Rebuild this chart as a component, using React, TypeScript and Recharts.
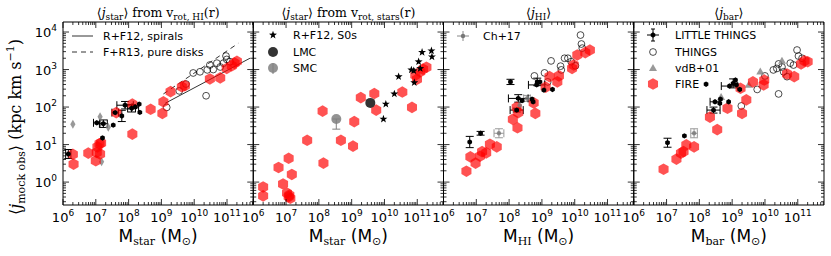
import React from 'react';
import { ScatterChart, Scatter, XAxis, YAxis, ErrorBar } from 'recharts';

type Pt = { m: number; j: number; ex?: number; ey?: number; eyLo?: number };

// ---- panel 1: <j_star> from v_rot,HI(r) ----
const fireStarHI: Pt[] = [
  { m: 2.0e6, j: 5.5 }, { m: 2.1e6, j: 3.0 }, { m: 5.9e6, j: 5.9 }, { m: 1.07e7, j: 6.2 },
  { m: 1.12e7, j: 8.7 }, { m: 1.3e7, j: 10.5 }, { m: 1.45e7, j: 11 }, { m: 1.0e7, j: 3.7 },
  { m: 1.35e7, j: 5.6 }, { m: 4.2e7, j: 71 }, { m: 1.3e8, j: 120 }, { m: 1.3e8, j: 19 },
  { m: 4.7e8, j: 87 }, { m: 1.07e9, j: 68 }, { m: 1.15e9, j: 138 }, { m: 1.9e9, j: 257 },
  { m: 4.2e9, j: 347 }, { m: 5.2e9, j: 372 }, { m: 3.0e10, j: 562 }, { m: 6.2e10, j: 600 },
  { m: 9.8e10, j: 1070 }, { m: 1.4e11, j: 1260 }, { m: 1.7e11, j: 1480 }, { m: 2.0e11, j: 1660 },
];
const littleStarHI: Pt[] = [
  { m: 1.45e6, j: 5.6, ex: 0.08, ey: 0.12 }, { m: 1.07e7, j: 38, ex: 0.1 }, { m: 1.7e7, j: 36, ex: 0.12, ey: 0.1 },
  { m: 3.4e7, j: 33 }, { m: 1.6e7, j: 15 }, { m: 3.9e7, j: 71, ex: 0.1 }, { m: 6.2e7, j: 58, ey: 0.15 },
  { m: 7.8e7, j: 112, ex: 0.25, ey: 0.1 }, { m: 1.23e8, j: 93, ex: 0.12, ey: 0.1 }, { m: 1.6e8, j: 100, ex: 0.1 },
  { m: 2.1e8, j: 120 }, { m: 2.2e8, j: 72 },
];
const vdbStarHI: Pt[] = [
  { m: 2.0e6, j: 35 }, { m: 1.35e7, j: 55 }, { m: 2.4e7, j: 29 }, { m: 1.5e7, j: 3.5 },
];
const thingsStarHI: Pt[] = [
  { m: 9.3e9, j: 810 }, { m: 1.5e10, j: 870 }, { m: 2.5e10, j: 980 }, { m: 4.9e10, j: 1480 },
  { m: 7.8e10, j: 1480 }, { m: 9.3e10, j: 2290 }, { m: 9.8e10, j: 1860 }, { m: 6.2e10, j: 1170 },
  { m: 3.8e10, j: 1000 }, { m: 3.0e10, j: 1320 }, { m: 5.6e9, j: 410 }, { m: 3.5e9, j: 270 },
  { m: 1.45e9, j: 98 }, { m: 2.3e10, j: 200 }, { m: 1.23e11, j: 1620 },
];
const spiralsLine: Pt[] = [{ m: 1.3e9, j: 126 }, { m: 5.0e11, j: 2000 }];
const pureDisksLine: Pt[] = [{ m: 1.15e9, j: 224 }, { m: 2.2e11, j: 5000 }];

// ---- panel 2: <j_star> from v_rot,stars(r) ----
const fireStarStars: Pt[] = [
  { m: 2.0e6, j: 0.74 }, { m: 2.0e6, j: 0.43 }, { m: 5.9e6, j: 2.45 }, { m: 1.2e7, j: 4.3 },
  { m: 1.5e7, j: 1.6 }, { m: 8.1e6, j: 0.89 }, { m: 1.07e7, j: 0.51 }, { m: 1.2e7, j: 0.41 },
  { m: 1.35e7, j: 0.37 }, { m: 1.26e7, j: 0.45 }, { m: 1.38e8, j: 3.2 }, { m: 1.3e8, j: 78 },
  { m: 4.4e7, j: 13 }, { m: 4.7e8, j: 13 }, { m: 1.1e9, j: 9.1 }, { m: 1.2e9, j: 41 },
  { m: 1.9e9, j: 178 }, { m: 4.9e9, j: 229 }, { m: 5.6e9, j: 83 }, { m: 3.5e10, j: 251 },
  { m: 6.9e10, j: 98 }, { m: 9.8e10, j: 550 }, { m: 8.7e10, j: 708 }, { m: 1.23e11, j: 870 },
  { m: 1.5e11, j: 1020 }, { m: 1.9e11, j: 1150 },
];
const s0Stars: Pt[] = [
  { m: 9.3e9, j: 48 }, { m: 1.1e10, j: 120 }, { m: 2.0e10, j: 224 }, { m: 2.7e10, j: 646 },
  { m: 6.6e10, j: 980 }, { m: 7.8e10, j: 930 }, { m: 1.1e11, j: 1620 }, { m: 1.23e11, j: 1070 },
  { m: 8.1e10, j: 447 }, { m: 1.4e11, j: 2880 }, { m: 2.7e11, j: 3160 }, { m: 2.8e11, j: 2190 },
];
const lmc: Pt[] = [{ m: 3.7e9, j: 129 }];
const smc: Pt[] = [{ m: 3.4e8, j: 48, eyLo: 0.27 }];

// ---- panel 3: <j_HI> ----
const fireHI: Pt[] = [
  { m: 5.0e6, j: 1.95 }, { m: 6.6e6, j: 4.7 }, { m: 9.5e6, j: 3.2 }, { m: 1.3e7, j: 4.9 },
  { m: 1.5e7, j: 6.5 }, { m: 2.0e7, j: 6.0 }, { m: 2.6e7, j: 10.2 }, { m: 4.2e7, j: 8.7 },
  { m: 1.3e8, j: 47 }, { m: 1.8e8, j: 28 }, { m: 1.7e8, j: 98 }, { m: 1.9e8, j: 71 },
  { m: 6.3e8, j: 68 }, { m: 5.6e8, j: 129 }, { m: 1.3e9, j: 339 }, { m: 1.7e9, j: 646 },
  { m: 2.95e9, j: 468 }, { m: 3.3e9, j: 676 }, { m: 8.3e9, j: 1070 }, { m: 9.3e9, j: 1320 },
  { m: 1.2e10, j: 2450 }, { m: 2.1e10, j: 2820 }, { m: 2.9e10, j: 3310 },
];
const littleHI: Pt[] = [
  { m: 6.3e6, j: 11.7, ey: 0.15 }, { m: 1.35e7, j: 20, ey: 0.05 }, { m: 1.1e8, j: 468, ey: 0.07 },
  { m: 1.9e8, j: 170, ex: 0.3, ey: 0.1 }, { m: 1.7e8, j: 83, ex: 0.2, ey: 0.05 }, { m: 2.5e8, j: 148 },
  { m: 5.0e8, j: 162 }, { m: 5.4e8, j: 138 }, { m: 6.9e8, j: 389, ex: 0.25 }, { m: 7.2e8, j: 468, ey: 0.1 },
  { m: 8.7e8, j: 468 }, { m: 1.15e9, j: 282 }, { m: 2.1e9, j: 295 },
];
const ch17HI: Pt[] = [
  { m: 4.9e7, j: 20, ex: 0.15, ey: 0.12 }, { m: 3.5e8, j: 170, ex: 0.1, ey: 0.08 }, { m: 2.1e8, j: 112 },
];
const thingsHI: Pt[] = [
  { m: 5.9e8, j: 676 }, { m: 1.2e9, j: 813 }, { m: 1.5e9, j: 468 }, { m: 1.9e9, j: 1700 },
  { m: 3.7e9, j: 1230 }, { m: 3.9e9, j: 977 }, { m: 4.9e9, j: 2000 }, { m: 6.2e9, j: 2000 },
  { m: 7.8e9, j: 1620 }, { m: 1.05e10, j: 1260 }, { m: 1.5e10, j: 8300 }, { m: 1.6e10, j: 4790 },
  { m: 1.7e10, j: 3720 },
];

// ---- panel 4: <j_bar> ----
const fireBar: Pt[] = [
  { m: 8.1e6, j: 2.2 }, { m: 2.0e7, j: 4.1 }, { m: 2.75e7, j: 5.9 }, { m: 3.3e7, j: 6.5 },
  { m: 4.0e7, j: 9.8 }, { m: 6.9e7, j: 8.7 }, { m: 2.1e8, j: 54 }, { m: 3.5e8, j: 25 },
  { m: 7.2e8, j: 93 }, { m: 1.8e9, j: 316 }, { m: 2.0e9, j: 68 }, { m: 2.7e9, j: 155 },
  { m: 4.3e9, j: 468 }, { m: 9.1e9, j: 389 }, { m: 9.5e9, j: 525 }, { m: 4.7e10, j: 760 },
  { m: 7.8e10, j: 646 }, { m: 1.26e11, j: 1410 }, { m: 1.6e11, j: 1700 }, { m: 2.0e11, j: 1620 },
];
const littleBar: Pt[] = [
  { m: 1.07e7, j: 11.2, ey: 0.12 }, { m: 3.5e7, j: 17 }, { m: 1.6e8, j: 407 },
  { m: 2.7e8, j: 83, ex: 0.2, ey: 0.08 }, { m: 3.0e8, j: 138, ex: 0.15 }, { m: 4.2e8, j: 126 },
  { m: 4.4e8, j: 162 }, { m: 7.8e8, j: 138 }, { m: 8.3e8, j: 363, ex: 0.25 },
  { m: 1.07e9, j: 427, ey: 0.12 }, { m: 1.26e9, j: 525 }, { m: 1.35e9, j: 389 }, { m: 1.7e9, j: 295 },
];
const ch17Bar: Pt[] = [{ m: 6.9e7, j: 20, ex: 0.1, ey: 0.12 }];
const vdbBar: Pt[] = [{ m: 4.6e8, j: 182 }, { m: 3.2e9, j: 389 }, { m: 7.2e9, j: 870 }, { m: 3.3e10, j: 1700 }];
const thingsBar: Pt[] = [
  { m: 1.9e9, j: 107 }, { m: 5.8e9, j: 295 }, { m: 1.0e10, j: 676 }, { m: 1.8e10, j: 977 },
  { m: 2.3e10, j: 1070 }, { m: 2.6e10, j: 1410 }, { m: 3.3e10, j: 1170 }, { m: 3.7e10, j: 870 },
  { m: 4.7e10, j: 646 }, { m: 5.9e10, j: 1480 }, { m: 7.4e10, j: 1320 }, { m: 9.5e10, j: 3310 },
  { m: 1.05e11, j: 2290 }, { m: 1.35e11, j: 2000 }, { m: 2.6e10, j: 224 },
];

const X_MAJOR = [1e6, 1e7, 1e8, 1e9, 1e10, 1e11];
const Y_MAJOR = [1, 10, 100, 1e3, 1e4];
const X_DOMAIN = [1e6, 6.3e11];
const Y_DOMAIN = [0.245, 18500];
const minorOf = (decades: number[], lo: number, hi: number) =>
  decades.flatMap((d) => [2, 3, 4, 5, 6, 7, 8, 9].map((k) => k * d)).filter((v) => v > lo && v < hi);
const X_TICKS = [...X_MAJOR, ...minorOf(X_MAJOR, X_DOMAIN[0], X_DOMAIN[1])];
const Y_TICKS = [...Y_MAJOR, ...minorOf([0.1, ...Y_MAJOR], Y_DOMAIN[0], Y_DOMAIN[1])];

const titles = [
  { main: 'star', tail: 'rot, HI' },
  { main: 'star', tail: 'rot, stars' },
  { main: 'HI', tail: null },
  { main: 'bar', tail: null },
];
const xLabels = ['star', 'star', 'HI', 'bar'];

const W = 831;
const H = 256;
const TOP = 22;
const BOTTOM = 205;
const LEFTS = [63, 253.25, 443.5, 633.75];
const PW = 190.25;
const AXW = 4; // size given to each axis band
const SANS = 'DejaVu Sans';
const SERIF = 'DejaVu Serif';
const AX = { stroke: '#000', strokeWidth: 1 };

const withErr = (pts: Pt[]) =>
  pts.map((p) => ({
    ...p,
    errX: p.ex ? [p.m - p.m / 10 ** p.ex, p.m * 10 ** p.ex - p.m] : undefined,
    errY: p.ey
      ? [p.j - p.j / 10 ** p.ey, p.j * 10 ** p.ey - p.j]
      : p.eyLo
        ? [p.j - p.j / 10 ** p.eyLo, 0.0001]
        : undefined,
  }));

function hexPts(cx: number, cy: number, r: number) {
  return [0, 1, 2, 3, 4, 5]
    .map((i) => {
      const a = (Math.PI / 180) * (60 * i - 90);
      return `${cx + r * Math.cos(a)},${cy + r * Math.sin(a)}`;
    })
    .join(' ');
}
function starPts(cx: number, cy: number, R: number, r: number) {
  const out: string[] = [];
  for (let i = 0; i < 10; i++) {
    const a = (Math.PI / 5) * i - Math.PI / 2;
    const rr = i % 2 === 0 ? R : r;
    out.push(`${cx + rr * Math.cos(a)},${cy + rr * Math.sin(a)}`);
  }
  return out.join(' ');
}

const FireShape = (p: any) => <polygon points={hexPts(p.cx, p.cy, 5.8)} fill="#ff0000" fillOpacity={0.68} />;
const OpenShape = (p: any) => <circle cx={p.cx} cy={p.cy} r={3.4} fill="none" stroke="#000" strokeWidth={0.7} />;
const LittleShape = (p: any) => <polygon points={hexPts(p.cx, p.cy, 2.7)} fill="#000" />;
const Ch17Shape = (p: any) => <circle cx={p.cx} cy={p.cy} r={2.2} fill="#777" fillOpacity={0.8} />;
const StarShape = (p: any) => <polygon points={starPts(p.cx, p.cy, 4.2, 1.7)} fill="#000" />;
const DiamondShape = (p: any) => (
  <polygon points={`${p.cx},${p.cy - 4.5} ${p.cx + 2.6},${p.cy} ${p.cx},${p.cy + 4.5} ${p.cx - 2.6},${p.cy}`} fill="#808080" fillOpacity={0.8} />
);
const TriShape = (p: any) => (
  <polygon points={`${p.cx},${p.cy - 4.2} ${p.cx + 4},${p.cy + 2.8} ${p.cx - 4},${p.cy + 2.8}`} fill="#808080" fillOpacity={0.8} />
);
const LmcShape = (p: any) => <circle cx={p.cx} cy={p.cy} r={5} fill="#333" />;
const SmcShape = (p: any) => <circle cx={p.cx} cy={p.cy} r={5} fill="#808080" fillOpacity={0.85} />;
const NoShape = () => <g />;

const isMajor = (v: number) => Math.abs(Math.log10(v) - Math.round(Math.log10(v))) < 1e-6;
const expOf = (v: number) => Math.round(Math.log10(v));

// ticks point inwards, matplotlib style; labels only on the decades
const BottomTick = (p: any) => {
  const major = isMajor(p.payload.value);
  return (
    <g>
      <line x1={p.x} x2={p.x} y1={p.y} y2={p.y - (major ? 6 : 3)} stroke="#000" strokeWidth={0.8} />
      {major && (
        <text x={p.x} y={p.y + 16.5} textAnchor="middle" fontFamily={SANS} fontSize={13} fill="#000">
          10<tspan dy={-6} fontSize={9}>{expOf(p.payload.value)}</tspan>
        </text>
      )}
    </g>
  );
};
const TopTick = (p: any) => {
  const major = isMajor(p.payload.value);
  return <line x1={p.x} x2={p.x} y1={p.y} y2={p.y + (major ? 6 : 3)} stroke="#000" strokeWidth={0.8} />;
};
const makeLeftTick = (labels: boolean) => (p: any) => {
  const major = isMajor(p.payload.value);
  return (
    <g>
      <line x1={p.x} x2={p.x + (major ? 6 : 3)} y1={p.y} y2={p.y} stroke="#000" strokeWidth={0.8} />
      {labels && major && (
        <text x={p.x - 6} y={p.y + 5} textAnchor="end" fontFamily={SANS} fontSize={13} fill="#000">
          10<tspan dy={-6} fontSize={9}>{expOf(p.payload.value)}</tspan>
        </text>
      )}
    </g>
  );
};
const LeftTickLabeled = makeLeftTick(true);
const LeftTickPlain = makeLeftTick(false);
const RightTick = (p: any) => {
  const major = isMajor(p.payload.value);
  return <line x1={p.x} x2={p.x - (major ? 6 : 3)} y1={p.y} y2={p.y} stroke="#000" strokeWidth={0.8} />;
};

function series(key: string, data: Pt[], shape: any, err?: { color: string }, line?: any) {
  return (
    <Scatter
      key={key}
      xAxisId="x"
      yAxisId="y"
      data={err ? withErr(data) : data}
      shape={shape}
      line={line}
      lineType="joint"
      isAnimationActive={false}
    >
      {err && <ErrorBar dataKey="errX" direction="x" width={4} stroke={err.color} strokeWidth={1} />}
      {err && <ErrorBar dataKey="errY" direction="y" width={4} stroke={err.color} strokeWidth={1} />}
    </Scatter>
  );
}

function Panel({ idx, children }: { idx: number; children: React.ReactNode }) {
  const left = LEFTS[idx];
  const common = { type: 'number' as const, scale: 'log' as const, allowDataOverflow: true, interval: 0 as const, tickSize: 0, tickMargin: 0, tickLine: false, axisLine: AX };
  return (
    <div style={{ position: 'absolute', left: 0, top: 0 }}>
      <ScatterChart
        width={W}
        height={H}
        margin={{ top: TOP - AXW, bottom: H - BOTTOM - AXW, left: left - AXW, right: W - left - PW - AXW }}
      >
        <XAxis xAxisId="x" dataKey="m" orientation="bottom" height={AXW} domain={X_DOMAIN} ticks={X_TICKS} tick={BottomTick} {...common} />
        <XAxis xAxisId="t" dataKey="m" orientation="top" height={AXW} domain={X_DOMAIN} ticks={X_TICKS} tick={TopTick} {...common} />
        <YAxis yAxisId="y" dataKey="j" orientation="left" width={AXW} domain={Y_DOMAIN} ticks={Y_TICKS} tick={idx === 0 ? LeftTickLabeled : LeftTickPlain} {...common} />
        <YAxis yAxisId="r" dataKey="j" orientation="right" width={AXW} domain={Y_DOMAIN} ticks={Y_TICKS} tick={RightTick} {...common} />
        <Scatter xAxisId="t" yAxisId="r" data={fireBar.slice(0, 1)} shape={NoShape} isAnimationActive={false} />
        {children}
      </ScatterChart>
    </div>
  );
}

function Overlay() {
  const centers = LEFTS.map((l) => l + PW / 2);
  return (
    <svg width={W} height={H} style={{ position: 'absolute', left: 0, top: 0 }}>
      {titles.map((t, i) => (
        <text key={i} x={centers[i]} y={17} textAnchor="middle" fontFamily={SERIF} fontSize={12.5} fill="#000">
          {'\u27e8'}
          <tspan fontStyle="italic">j</tspan>
          <tspan fontSize={9} dy={3}>{t.main}</tspan>
          <tspan dy={-3}>{'\u27e9'}</tspan>
          {t.tail && (
            <>
              <tspan> from v</tspan>
              <tspan fontSize={9} dy={3}>{t.tail}</tspan>
              <tspan dy={-3}>(r)</tspan>
            </>
          )}
        </text>
      ))}
      {xLabels.map((s, i) => (
        <text key={i} x={centers[i]} y={242} textAnchor="middle" fontFamily={SANS} fontSize={17} fill="#000">
          M<tspan fontFamily={SERIF} fontSize={11} dy={3}>{s}</tspan>
          <tspan dy={-3}> (M</tspan>
          <tspan fontSize={11} dy={3}>{'\u2299'}</tspan>
          <tspan dy={-3}>)</tspan>
        </text>
      ))}
      <text transform="translate(21,127) rotate(-90)" textAnchor="middle" fontFamily={SERIF} fontSize={16} fill="#000">
        {'\u27e8'}
        <tspan fontStyle="italic">j</tspan>
        <tspan fontSize={11} dy={3.5}>mock obs</tspan>
        <tspan dy={-3.5}>{'\u27e9'} (kpc km s</tspan>
        <tspan fontSize={11} dy={-7}>{'\u22121'}</tspan>
        <tspan dy={7}>)</tspan>
      </text>

      {/* legends */}
      <g fontFamily={SANS} fontSize={11} fill="#000">
        <line x1={72} x2={93} y1={36} y2={36} stroke="#333" strokeWidth={1} />
        <text x={103} y={40}>R+F12, spirals</text>
        <line x1={72} x2={93} y1={52} y2={52} stroke="#333" strokeWidth={1} strokeDasharray="5 4" />
        <text x={103} y={56}>F+R13, pure disks</text>

        <polygon points={starPts(273, 35, 4.2, 1.7)} fill="#000" />
        <text x={293} y={39}>R+F12, S0s</text>
        <circle cx={273} cy={52} r={5} fill="#333" />
        <text x={293} y={56}>LMC</text>
        <line x1={273} x2={273} y1={63} y2={74} stroke="#808080" />
        <circle cx={273} cy={68} r={5} fill="#808080" fillOpacity={0.85} />
        <text x={293} y={72}>SMC</text>

        <line x1={457} x2={469} y1={36} y2={36} stroke="#888" />
        <line x1={463} x2={463} y1={31} y2={41} stroke="#888" />
        <circle cx={463} cy={36} r={2.2} fill="#777" />
        <text x={483} y={40}>Ch+17</text>

        <line x1={647} x2={659} y1={35} y2={35} stroke="#000" />
        <line x1={653} x2={653} y1={29} y2={41} stroke="#000" />
        <line x1={651} x2={655} y1={29} y2={29} stroke="#000" />
        <line x1={651} x2={655} y1={41} y2={41} stroke="#000" />
        <polygon points={hexPts(653, 35, 2.7)} fill="#000" />
        <text x={675} y={39}>LITTLE THINGS</text>
        <circle cx={653} cy={52} r={3.4} fill="none" stroke="#000" strokeWidth={0.7} />
        <text x={675} y={56}>THINGS</text>
        <polygon points={`653,64 657,71 649,71`} fill="#808080" fillOpacity={0.8} />
        <text x={675} y={72}>vdB+01</text>
        <polygon points={hexPts(653, 84, 5.8)} fill="#ff0000" fillOpacity={0.68} />
        <text x={675} y={88}>FIRE</text>
      </g>
    </svg>
  );
}

export default function App() {
  return (
    <div style={{ position: 'absolute', left: 0, top: 0, width: W, height: H, background: '#fff' }}>
      <Panel idx={0}>
        {series('spirals', spiralsLine, NoShape, undefined, { stroke: '#333', strokeWidth: 1 })}
        {series('disks', pureDisksLine, NoShape, undefined, { stroke: '#333', strokeWidth: 1, strokeDasharray: '5 4' })}
        {series('things', thingsStarHI, OpenShape)}
        {series('vdb', vdbStarHI, DiamondShape)}
        {series('fire', fireStarHI, FireShape)}
        {series('little', littleStarHI, LittleShape, { color: '#000' })}
      </Panel>
      <Panel idx={1}>
        {series('fire', fireStarStars, FireShape)}
        {series('s0', s0Stars, StarShape)}
        {series('lmc', lmc, LmcShape)}
        {series('smc', smc, SmcShape, { color: '#808080' })}
      </Panel>
      <Panel idx={2}>
        {series('things', thingsHI, OpenShape)}
        {series('fire', fireHI, FireShape)}
        {series('ch17', ch17HI, Ch17Shape, { color: '#999' })}
        {series('little', littleHI, LittleShape, { color: '#000' })}
      </Panel>
      <Panel idx={3}>
        {series('things', thingsBar, OpenShape)}
        {series('vdb', vdbBar, TriShape)}
        {series('fire', fireBar, FireShape)}
        {series('ch17', ch17Bar, Ch17Shape, { color: '#999' })}
        {series('little', littleBar, LittleShape, { color: '#000' })}
      </Panel>
      <Overlay />
    </div>
  );
}
